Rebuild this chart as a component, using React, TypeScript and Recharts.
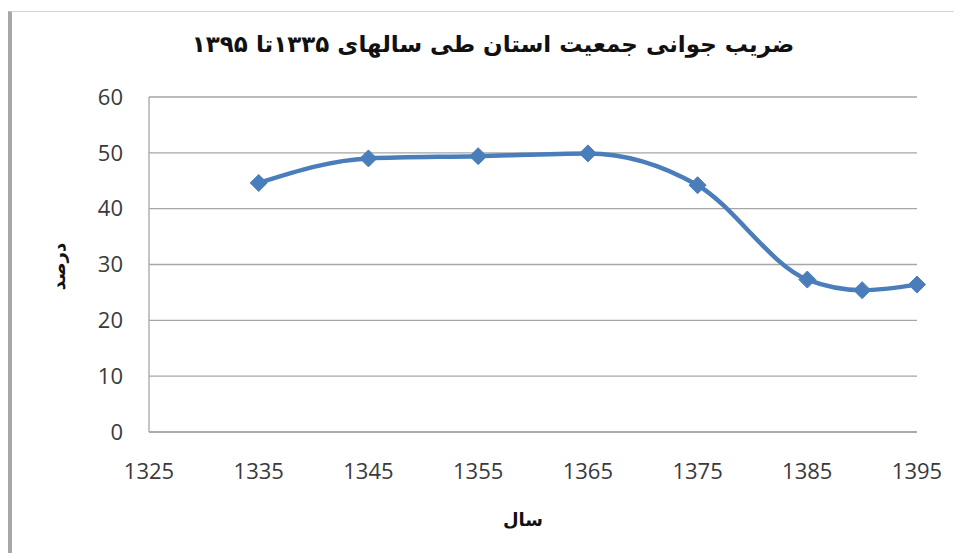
import React from 'react';
import { LineChart, Line, XAxis, YAxis, CartesianGrid } from 'recharts';

// years (solar hijri) and youth ratio percent
const years = [1335, 1345, 1355, 1365, 1375, 1385, 1390, 1395];
const ratio = [44.6, 49.0, 49.4, 49.9, 44.2, 27.3, 25.4, 26.4];
const xTicks = [1325, 1335, 1345, 1355, 1365, 1375, 1385, 1395];
const yTicks = [0, 10, 20, 30, 40, 50, 60];

const title = 'ضریب جوانی جمعیت استان طی سالهای ۱۳۳۵تا ۱۳۹۵';
const xLabel = 'سال';
const yLabel = 'درصد';

const data = years.map((year, i) => ({ year, value: ratio[i] }));

const BLUE = '#4A7EBB';
const GRID = '#a6a6a6';
const tickStyle = { fontFamily: '"Open Sans", sans-serif', fontSize: 22, fill: '#3a3a3a' };

// Excel-style diamond marker
const Diamond = (props: any) => {
  const { cx, cy } = props;
  if (cx == null || cy == null) return null;
  const r = 8.5;
  return (
    <polygon
      points={`${cx},${cy - r} ${cx + r},${cy} ${cx},${cy + r} ${cx - r},${cy}`}
      fill={BLUE}
      stroke={BLUE}
      strokeWidth={1}
    />
  );
};

export default function App() {
  return (
    <div style={{ position: 'relative', width: 946, height: 545 }}>
      {/* frame of the pasted chart */}
      <div
        style={{
          position: 'absolute',
          left: 0,
          top: 3,
          width: 943,
          height: 542,
          borderTop: '1px solid #d4d4d4',
          borderLeft: '4px solid #a8a8a8',
        }}
      />
      <div
        dir="rtl"
        style={{
          position: 'absolute',
          left: 12,
          top: 23,
          width: 946,
          textAlign: 'center',
          fontFamily: '"DejaVu Sans", sans-serif',
          fontWeight: 'bold',
          fontSize: 23,
          color: '#111',
        }}
      >
        {title}
      </div>
      <LineChart
        width={946}
        height={545}
        data={data}
        margin={{ top: 89, right: 37, bottom: 61, left: 81 }}
      >
        <CartesianGrid vertical={false} stroke={GRID} strokeWidth={1.3} />
        <XAxis
          dataKey="year"
          type="number"
          domain={[1325, 1395]}
          ticks={xTicks}
          height={60}
          axisLine={{ stroke: GRID, strokeWidth: 1.3 }}
          tickLine={false}
          tickSize={0}
          tickMargin={31}
          tick={tickStyle}
        />
        <YAxis
          domain={[0, 60]}
          ticks={yTicks}
          width={60}
          axisLine={{ stroke: GRID, strokeWidth: 1.3 }}
          tickLine={false}
          tickSize={0}
          tickMargin={26}
          tick={tickStyle}
        />
        <Line
          type="monotone"
          dataKey="value"
          stroke={BLUE}
          strokeWidth={4.5}
          dot={<Diamond />}
          activeDot={false}
          isAnimationActive={false}
        />
      </LineChart>
      <div
        dir="rtl"
        style={{
          position: 'absolute',
          left: 465,
          top: 501,
          width: 100,
          textAlign: 'center',
          fontFamily: '"DejaVu Sans", sans-serif',
          fontWeight: 'bold',
          fontSize: 18,
          color: '#111',
        }}
      >
        {xLabel}
      </div>
      <div
        dir="rtl"
        style={{
          position: 'absolute',
          left: 0,
          top: 248,
          width: 100,
          textAlign: 'center',
          transform: 'rotate(-90deg)',
          fontFamily: '"DejaVu Sans", sans-serif',
          fontWeight: 'bold',
          fontSize: 18,
          color: '#111',
        }}
      >
        {yLabel}
      </div>
    </div>
  );
}
